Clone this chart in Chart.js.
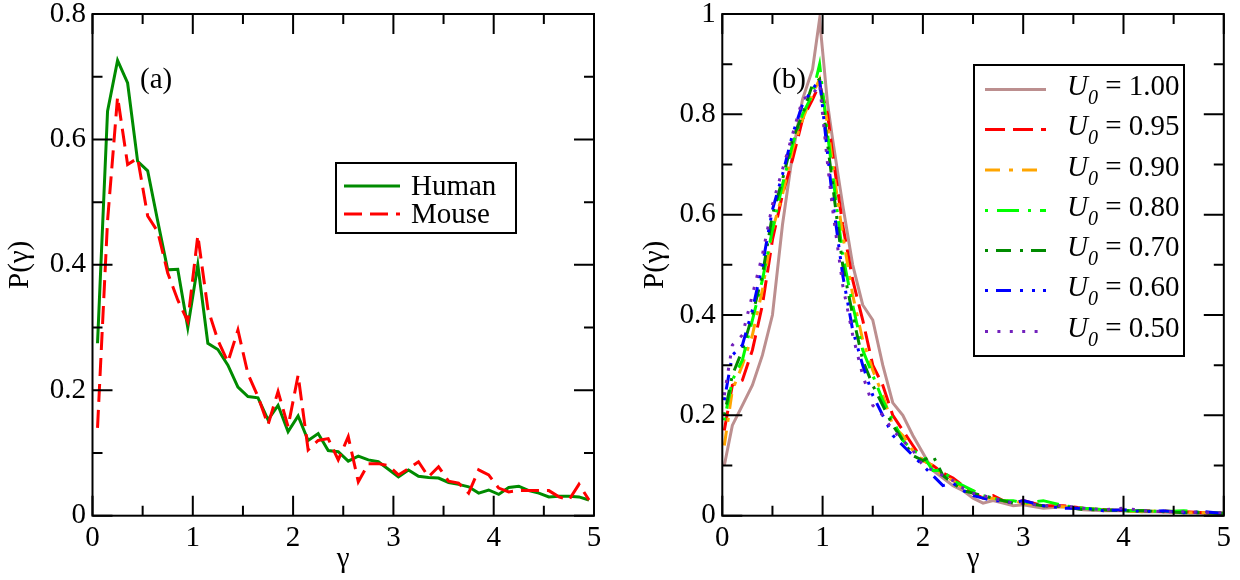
<!DOCTYPE html>
<html><head><meta charset="utf-8">
<script src="https://cdn.jsdelivr.net/npm/chart.js@4.4.1/dist/chart.umd.min.js"></script>
<style>
html,body{margin:0;padding:0;background:#fff;}
body{width:1240px;height:580px;overflow:hidden;position:relative;font-family:"Liberation Serif",serif;}
canvas{position:absolute;top:0;}
#c1{left:0;}
#c2{left:620px;}
#ov{position:absolute;left:0;top:0;pointer-events:none;}
</style></head>
<body>
<canvas id="c1" width="620" height="580" style="width:620px;height:580px"></canvas>
<canvas id="c2" width="620" height="580" style="width:620px;height:580px"></canvas>
<svg id="ov" width="1240" height="580" font-family="Liberation Serif, serif" font-size="29">
  <text x="140" y="88">(a)</text>
  <text x="772" y="88">(b)</text>
  <rect x="336" y="163" width="180" height="70" fill="#fff" stroke="#000" stroke-width="2"/>
  <line x1="344" y1="186" x2="400" y2="186" stroke="rgb(0,139,0)" stroke-width="3"/>
  <line x1="344" y1="214" x2="400" y2="214" stroke="rgb(255,0,0)" stroke-width="3" stroke-dasharray="18 8"/>
  <text x="411" y="195">Human</text>
  <text x="411" y="223">Mouse</text>
  <rect x="974" y="65" width="210" height="291" fill="#fff" stroke="#000" stroke-width="2"/>
  <g stroke-width="3">
    <line x1="985" y1="89.5" x2="1046" y2="89.5" stroke="rgb(188,143,143)"/>
    <line x1="985" y1="129.5" x2="1046" y2="129.5" stroke="rgb(255,0,0)" stroke-dasharray="20 8"/>
    <line x1="985" y1="170" x2="1046" y2="170" stroke="rgb(255,165,0)" stroke-dasharray="15 9 4 9"/>
    <line x1="985" y1="210.5" x2="1046" y2="210.5" stroke="rgb(0,255,0)" stroke-dasharray="3 9 22 9"/>
    <line x1="985" y1="250.5" x2="1046" y2="250.5" stroke="rgb(0,139,0)" stroke-dasharray="3 8 15 9"/>
    <line x1="985" y1="290.5" x2="1046" y2="290.5" stroke="rgb(0,0,255)" stroke-dasharray="3 8 15 9 3 9"/>
    <line x1="985" y1="331.5" x2="1046" y2="331.5" stroke="rgb(114,33,188)" stroke-dasharray="3 9.4"/>
  </g>
  <g id="rl"></g>
</svg>
<script>
// ---------------- data ----------------
const xTicks = [0, 1, 2, 3, 4, 5];
const xLabels = ['0', '1', '2', '3', '4', '5'];
const yTicksL = [0, 0.2, 0.4, 0.6, 0.8];
const yLabelsL = ['0', '0.2', '0.4', '0.6', '0.8'];
const yTicksR = [0, 0.2, 0.4, 0.6, 0.8, 1];
const yLabelsR = ['0', '0.2', '0.4', '0.6', '0.8', '1'];

const gammaL = [0.05,0.15,0.25,0.35,0.45,0.55,0.65,0.75,0.85,0.95,1.05,1.15,1.25,1.35,1.45,1.55,1.65,1.75,1.85,1.95,
  2.05,2.15,2.25,2.35,2.45,2.55,2.65,2.75,2.85,2.95,3.05,3.15,3.25,3.35,3.45,3.55,3.65,3.75,3.85,3.95,
  4.05,4.15,4.25,4.35,4.45,4.55,4.65,4.75,4.85,4.95];
const human = [0.275,0.645,0.726,0.69,0.565,0.55,0.47,0.392,0.393,0.30,0.40,0.275,0.265,0.24,0.205,0.19,0.188,0.153,0.176,0.134,
  0.159,0.12,0.131,0.104,0.102,0.087,0.095,0.089,0.086,0.074,0.062,0.073,0.063,0.061,0.06,0.053,0.05,0.046,0.036,0.041,
  0.034,0.045,0.047,0.04,0.036,0.03,0.031,0.031,0.03,0.025];
const mouse = [0.14,0.47,0.668,0.56,0.57,0.478,0.453,0.387,0.344,0.31,0.447,0.33,0.28,0.245,0.296,0.226,0.19,0.145,0.198,0.142,
  0.224,0.105,0.12,0.123,0.089,0.126,0.054,0.083,0.083,0.08,0.065,0.075,0.086,0.062,0.078,0.055,0.052,0.036,0.073,0.065,
  0.044,0.038,0.04,0.04,0.04,0.04,0.03,0.025,0.05,0.025];

const gammaR = [0.02,0.1,0.2,0.3,0.4,0.5,0.6,0.7,0.8,0.9,0.97,1.05,1.1,1.2,1.3,1.4,1.5,1.6,1.7,1.8,1.9,2.0,
  2.1,2.2,2.3,2.4,2.5,2.6,2.7,2.8,2.9,3.0,3.2,3.4,3.6,3.8,4.0,4.2,4.4,4.6,4.8,5.0];
const u100 = [0.10,0.18,0.22,0.26,0.32,0.40,0.58,0.72,0.83,0.89,0.99,0.82,0.75,0.62,0.50,0.42,0.39,0.30,0.225,0.20,0.16,0.125,
  0.09,0.075,0.06,0.05,0.035,0.025,0.03,0.025,0.02,0.022,0.015,0.018,0.012,0.01,0.01,0.008,0.008,0.006,0.005,0.005];
const u095 = [0.17,0.26,0.27,0.33,0.42,0.55,0.64,0.71,0.79,0.83,0.86,0.80,0.72,0.58,0.47,0.39,0.30,0.26,0.20,0.17,0.14,0.11,
  0.10,0.085,0.075,0.06,0.045,0.035,0.04,0.03,0.025,0.03,0.02,0.02,0.015,0.012,0.01,0.01,0.008,0.008,0.006,0.005];
const u090 = [0.14,0.25,0.30,0.36,0.45,0.57,0.64,0.73,0.79,0.84,0.87,0.78,0.70,0.56,0.44,0.35,0.29,0.24,0.18,0.16,0.13,0.11,
  0.10,0.08,0.07,0.055,0.05,0.035,0.035,0.03,0.03,0.025,0.02,0.018,0.015,0.012,0.01,0.008,0.01,0.006,0.006,0.005];
const u080 = [0.19,0.27,0.31,0.39,0.47,0.57,0.66,0.74,0.80,0.84,0.90,0.76,0.68,0.52,0.42,0.33,0.28,0.23,0.19,0.15,0.13,0.12,
  0.09,0.09,0.07,0.06,0.05,0.04,0.035,0.03,0.03,0.025,0.03,0.02,0.015,0.012,0.01,0.01,0.008,0.01,0.006,0.005];
const u070 = [0.20,0.28,0.33,0.40,0.48,0.60,0.67,0.75,0.80,0.86,0.87,0.74,0.66,0.50,0.40,0.31,0.26,0.22,0.18,0.15,0.12,0.11,
  0.12,0.08,0.065,0.05,0.045,0.04,0.035,0.03,0.025,0.025,0.02,0.018,0.012,0.012,0.01,0.01,0.008,0.006,0.006,0.004];
const u060 = [0.23,0.32,0.34,0.41,0.50,0.61,0.68,0.76,0.82,0.85,0.87,0.72,0.63,0.48,0.37,0.30,0.24,0.20,0.16,0.14,0.12,0.10,
  0.08,0.06,0.065,0.05,0.04,0.035,0.03,0.03,0.025,0.03,0.02,0.015,0.015,0.01,0.012,0.008,0.01,0.006,0.008,0.004];
const u050 = [0.24,0.34,0.36,0.44,0.52,0.62,0.69,0.76,0.83,0.84,0.86,0.70,0.61,0.46,0.36,0.28,0.22,0.20,0.17,0.15,0.13,0.10,
  0.09,0.08,0.07,0.055,0.045,0.04,0.035,0.03,0.025,0.025,0.02,0.02,0.015,0.012,0.015,0.01,0.008,0.008,0.006,0.006];
const legendR = ['1.00', '0.95', '0.90', '0.80', '0.70', '0.60', '0.50'];

// ---------------- legend text (right) ----------------
const rowY = [95, 135, 175.5, 216, 256, 296, 337];
const rl = document.getElementById('rl');
legendR.forEach((v, i) => {
  const t = document.createElementNS('http://www.w3.org/2000/svg', 'text');
  t.setAttribute('x', 1067); t.setAttribute('y', rowY[i]);
  t.innerHTML = '<tspan font-style="italic">U</tspan><tspan font-style="italic" font-size="20" dy="9">0</tspan><tspan dy="-9"> = ' + v + '</tspan>';
  rl.appendChild(t);
});

// ---------------- helpers ----------------
const pts = (xs, ys) => xs.map((x, i) => ({x: x, y: ys[i]}));
const FONT = {family: '"Liberation Serif", serif', size: 29};

const framePlugin = {
  id: 'frame',
  afterDatasetsDraw(chart, args, o) {
    const {ctx, chartArea: a, scales: {x, y}} = chart;
    ctx.save();
    ctx.strokeStyle = '#000';
    ctx.lineWidth = 2;
    ctx.setLineDash([]);
    ctx.beginPath();
    for (let k = 0; k <= 10; k++) {
      const v = k * 0.5, px = x.getPixelForValue(v), L = (k % 2 === 0) ? 20 : 10;
      ctx.moveTo(px, a.bottom); ctx.lineTo(px, a.bottom - L);
      ctx.moveTo(px, a.top); ctx.lineTo(px, a.top + L);
    }
    const n = Math.round(o.ymax / 0.1);
    for (let k = 0; k <= n; k++) {
      const v = k * 0.1, py = y.getPixelForValue(v), L = (k % 2 === 0) ? 20 : 10;
      ctx.moveTo(a.left, py); ctx.lineTo(a.left + L, py);
      ctx.moveTo(a.right, py); ctx.lineTo(a.right - L, py);
    }
    ctx.stroke();
    ctx.strokeRect(a.left, a.top, a.right - a.left, a.bottom - a.top);
    ctx.restore();
  }
};

function options(ymax, yT, yL, yWidth, padRight, yTitlePad) {
  return {
    responsive: false, animation: false, devicePixelRatio: 1,
    layout: {padding: {top: 14, right: padRight, left: 0, bottom: 0}},
    plugins: {legend: {display: false}, tooltip: {enabled: false}, frame: {ymax: ymax}},
    elements: {point: {radius: 0}, line: {tension: 0, borderWidth: 3, fill: false}},
    scales: {
      x: {
        type: 'linear', min: 0, max: 5,
        afterBuildTicks(s) { s.ticks = xTicks.map(v => ({value: v})); },
        afterFit(s) { s.height = 64.3; s.paddingLeft = 0; s.paddingRight = 0; },
        grid: {display: false, drawTicks: false}, border: {display: false},
        ticks: {font: FONT, color: '#000', padding: 5, maxRotation: 0, minRotation: 0, autoSkip: false,
                callback: (v, i) => xLabels[i]},
        title: {display: true, text: 'γ', font: FONT, color: '#000', padding: {top: 0, bottom: 3}}
      },
      y: {
        type: 'linear', min: 0, max: ymax,
        afterBuildTicks(s) { s.ticks = yT.map(v => ({value: v})); },
        afterFit(s) { s.width = yWidth; s.paddingTop = 0; s.paddingBottom = 0; },
        grid: {display: false, drawTicks: false}, border: {display: false},
        ticks: {font: FONT, color: '#000', padding: 6.5, autoSkip: false, callback: (v, i) => yL[i]},
        title: {display: true, text: 'P(γ)', font: FONT, color: '#000', padding: {top: yTitlePad, bottom: 0}}
      }
    }
  };
}

new Chart(document.getElementById('c1'), {
  type: 'line',
  data: {datasets: [
    {label: 'Human', data: pts(gammaL, human), borderColor: 'rgb(0,139,0)', order: 1},
    {label: 'Mouse', data: pts(gammaL, mouse), borderColor: 'rgb(255,0,0)', borderDash: [18, 8], order: 0}
  ]},
  options: options(0.8, yTicksL, yLabelsL, 92.5, 26, 3),
  plugins: [framePlugin]
});

const specR = [
  [u100, 'rgb(188,143,143)', []],
  [u095, 'rgb(255,0,0)', [20, 8]],
  [u090, 'rgb(255,165,0)', [15, 9, 4, 9]],
  [u080, 'rgb(0,255,0)', [3, 9, 22, 9]],
  [u070, 'rgb(0,139,0)', [3, 8, 15, 9]],
  [u060, 'rgb(0,0,255)', [3, 8, 15, 9, 3, 9]],
  [u050, 'rgb(114,33,188)', [3, 9.4]]
];
new Chart(document.getElementById('c2'), {
  type: 'line',
  data: {datasets: specR.map((s, i) => ({
    label: 'U0 = ' + legendR[i], data: pts(gammaR, s[0]), borderColor: s[1], borderDash: s[2], order: 6 - i
  }))},
  options: options(1, yTicksR, yLabelsR, 102.3, 16.2, 17.6),
  plugins: [framePlugin]
});
</script>
</body></html>
